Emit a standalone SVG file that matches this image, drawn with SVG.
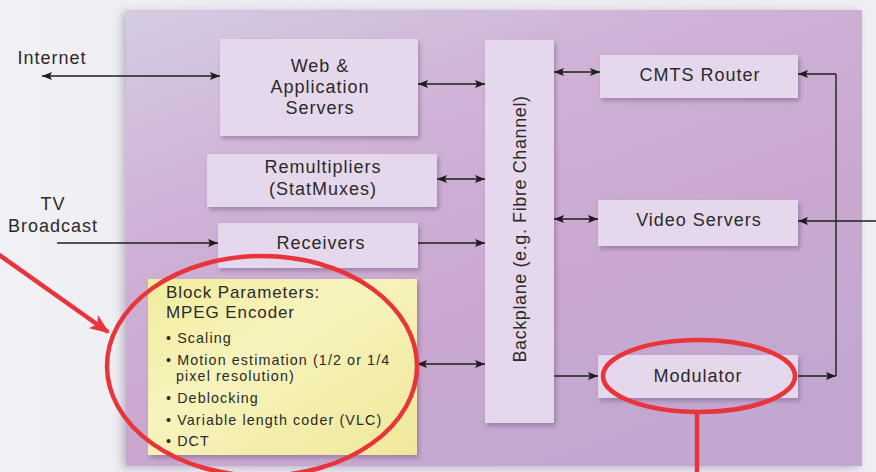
<svg xmlns="http://www.w3.org/2000/svg" width="876" height="472" viewBox="0 0 876 472">
<defs>
<linearGradient id="bg" x1="0" y1="0" x2="1" y2="0">
<stop offset="0" stop-color="#f1f1f5"/>
<stop offset="0.35" stop-color="#ecebf1"/>
<stop offset="1" stop-color="#eeeef3"/>
</linearGradient>
<linearGradient id="purple" x1="0" y1="0" x2="0.6" y2="1">
<stop offset="0" stop-color="#d4cce2"/>
<stop offset="0.35" stop-color="#cfb2d6"/>
<stop offset="0.7" stop-color="#c9a8cf"/>
<stop offset="1" stop-color="#c2a8d0"/>
</linearGradient>
<linearGradient id="yellow" x1="0" y1="0" x2="1" y2="1">
<stop offset="0" stop-color="#f2ec9c"/>
<stop offset="0.4" stop-color="#f7f3bd"/>
<stop offset="1" stop-color="#f0e89a"/>
</linearGradient>
<filter id="sh" x="-10%" y="-10%" width="130%" height="140%">
<feDropShadow dx="2" dy="3" stdDeviation="2" flood-color="#6a4e78" flood-opacity="0.45"/>
</filter>
<filter id="bigsh" x="-5%" y="-5%" width="110%" height="110%">
<feDropShadow dx="-4" dy="2" stdDeviation="4" flood-color="#8a7a9a" flood-opacity="0.5"/>
</filter>
<marker id="ah" viewBox="0 0 10 8" refX="10" refY="4" markerWidth="10" markerHeight="8" markerUnits="userSpaceOnUse" orient="auto-start-reverse">
<path d="M0,0 L10,4 L0,8 L2,4 Z" fill="#1e1e1e"/>
</marker>
<marker id="rah" viewBox="0 0 20 16" refX="18" refY="8" markerWidth="20" markerHeight="16" markerUnits="userSpaceOnUse" orient="auto">
<path d="M0,0 L20,8 L0,16 L5,8 Z" fill="#e8353b"/>
</marker>
</defs>
<style>
.box{fill:#e5d8ec;filter:url(#sh)}
.t{font-family:"Liberation Sans",Arial,sans-serif;font-size:18px;letter-spacing:1px;fill:#2a2a2a;text-anchor:middle}
.y{font-family:"Liberation Sans",Arial,sans-serif;font-size:17px;letter-spacing:0.9px;fill:#2a2a2a}
.b{font-family:"Liberation Sans",Arial,sans-serif;font-size:14.3px;letter-spacing:1.1px;fill:#2a2a2a}
.c{stroke:#1e1e1e;stroke-width:1.4;fill:none}
.red{stroke:#e8353b;stroke-width:4.5;fill:none}
</style>
<rect x="0" y="0" width="876" height="472" fill="url(#bg)"/>
<rect x="126" y="10" width="736" height="456" fill="url(#purple)" filter="url(#bigsh)"/>

<g id="web"><rect class="box" x="220" y="39" width="198" height="97"/>
<text class="t" x="320" y="72">Web &amp;</text>
<text class="t" x="320" y="93">Application</text>
<text class="t" x="320" y="114">Servers</text></g>

<g id="remux"><rect class="box" x="207" y="154" width="230" height="53"/>
<text class="t" x="323" y="173">Remultipliers</text>
<text class="t" x="323" y="195">(StatMuxes)</text></g>

<g id="receivers"><rect class="box" x="218" y="223" width="200" height="45"/>
<text class="t" x="321" y="249">Receivers</text></g>

<g id="encoder"><rect x="148" y="279" width="269" height="176" fill="url(#yellow)" filter="url(#sh)"/>
<text class="y" x="166" y="298">Block Parameters:</text>
<text class="y" x="166" y="318">MPEG Encoder</text>
<text class="b" x="166" y="343">• Scaling</text>
<text class="b" x="166" y="365">• Motion estimation (1/2 or 1/4</text>
<text class="b" x="176" y="381">pixel resolution)</text>
<text class="b" x="166" y="403">• Deblocking</text>
<text class="b" x="166" y="425">• Variable length coder (VLC)</text>
<text class="b" x="166" y="446">• DCT</text></g>

<g id="backplane"><rect class="box" x="485" y="40" width="69" height="383"/>
<text class="t" style="letter-spacing:0.6px" transform="translate(526,229) rotate(-90)">Backplane (e.g. Fibre Channel)</text></g>

<g id="cmts"><rect class="box" x="600" y="55" width="198" height="43"/>
<text class="t" x="700" y="81">CMTS Router</text></g>

<g id="video"><rect class="box" x="598" y="200" width="200" height="46"/>
<text class="t" x="699" y="226">Video Servers</text></g>

<g id="modulator"><rect class="box" x="598" y="355" width="200" height="43"/>
<text class="t" x="698" y="382">Modulator</text></g>

<g id="labels">
<text class="t" x="52" y="64">Internet</text>
<text class="t" x="53" y="210">TV</text>
<text class="t" x="53" y="232">Broadcast</text>
</g>

<g id="connectors">
<line class="c" x1="42" y1="76" x2="220" y2="76" marker-start="url(#ah)" marker-end="url(#ah)"/>
<line class="c" x1="418" y1="84" x2="485" y2="84" marker-start="url(#ah)" marker-end="url(#ah)"/>
<line class="c" x1="554" y1="72" x2="600" y2="72" marker-start="url(#ah)" marker-end="url(#ah)"/>
<line class="c" x1="437" y1="179" x2="485" y2="179" marker-start="url(#ah)" marker-end="url(#ah)"/>
<line class="c" x1="418" y1="243" x2="485" y2="243" marker-end="url(#ah)"/>
<line class="c" x1="57" y1="243" x2="218" y2="243" marker-end="url(#ah)"/>
<line class="c" x1="554" y1="219" x2="598" y2="219" marker-start="url(#ah)" marker-end="url(#ah)"/>
<line class="c" x1="417" y1="364" x2="485" y2="364" marker-start="url(#ah)" marker-end="url(#ah)"/>
<line class="c" x1="554" y1="376" x2="598" y2="376" marker-end="url(#ah)"/>
<line class="c" x1="836" y1="74" x2="836" y2="376"/>
<line class="c" x1="836" y1="74" x2="798" y2="74" marker-end="url(#ah)"/>
<line class="c" x1="876" y1="221" x2="798" y2="221" marker-end="url(#ah)"/>
<line class="c" x1="798" y1="376" x2="836" y2="376" marker-end="url(#ah)"/>
</g>

<g id="annotations">
<ellipse class="red" cx="262" cy="366" rx="155" ry="110"/>
<line class="red" x1="-2" y1="254" x2="108" y2="332" marker-end="url(#rah)"/>
<ellipse class="red" cx="699" cy="376" rx="96" ry="36"/>
<line class="red" x1="697" y1="412" x2="697" y2="474"/>
</g>
</svg>
